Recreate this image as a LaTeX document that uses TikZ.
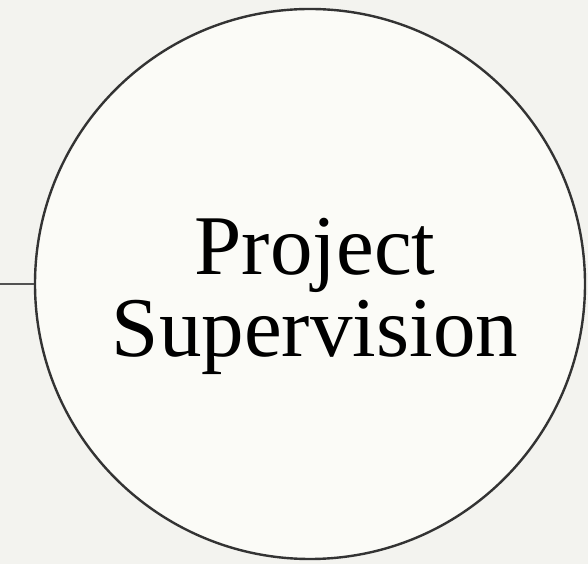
\documentclass[tikz,border=0pt]{standalone}
\usepackage{fontspec}
\setmainfont{Liberation Serif}
\definecolor{bgcol}{HTML}{F3F3EF}
\definecolor{incol}{HTML}{FBFBF7}
\definecolor{strokecol}{HTML}{333333}
\tikzset{
  bubble/.style={circle, draw=strokecol, line width=2.4pt, fill=incol, minimum size=550pt, inner sep=0pt},
  label text/.style={font=\fontsize{85}{82}\selectfont, text=black, inner sep=0pt, anchor=base},
  connector/.style={draw=strokecol!85, line width=2.6pt}
}
\begin{document}
\begin{tikzpicture}[x=1pt,y=1pt]
  \fill[bgcol] (0,0) rectangle (588,564);
  \useasboundingbox (0,0) rectangle (588,564);
  \node[bubble] (sup) at (310,280) {};
  \coordinate (lineStart) at (0,280);
  \draw[connector] (lineStart) -- (sup.west);
  \node[label text] (t1) at (315,289) {Project};
  \node[label text] (t2) at (315,207) {Supervision};
\end{tikzpicture}
\end{document}
